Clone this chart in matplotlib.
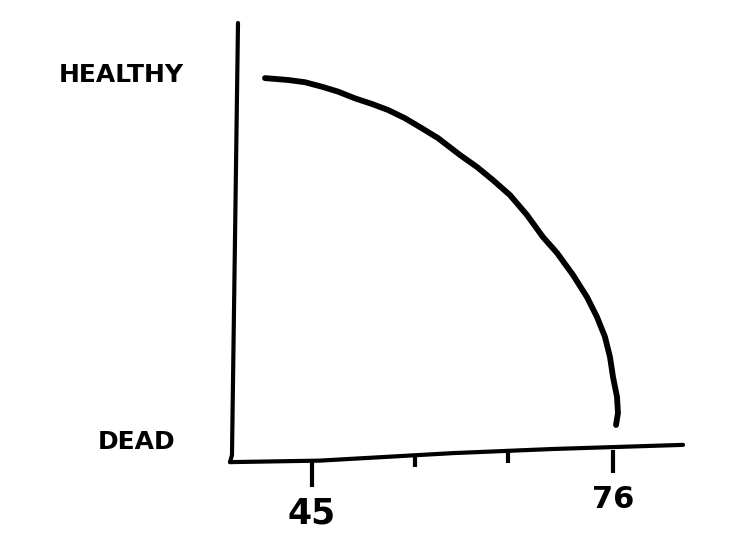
import matplotlib
matplotlib.use('Agg')
import matplotlib.pyplot as plt

# curve: age vs health (1 = healthy, 0 = dead)
age = [40.16, 42.53, 44.28, 46.03, 47.68, 49.43, 51.18, 52.83, 54.58, 56.33,
       57.98, 60.24, 61.99, 63.64, 65.39, 67.14, 68.79, 70.23, 71.88, 73.32,
       74.35, 75.17, 75.69, 76.00, 76.41, 76.51, 76.31]
health = [0.997, 0.992, 0.986, 0.974, 0.961, 0.943, 0.928, 0.912, 0.890, 0.863,
          0.837, 0.792, 0.760, 0.725, 0.685, 0.632, 0.573, 0.531, 0.472, 0.413,
          0.360, 0.307, 0.253, 0.200, 0.147, 0.104, 0.072]

# hand drawn axes
yaxis_x = [37.38, 36.76, 36.56]
yaxis_y = [1.144, -0.008, -0.027]
xaxis_x = [36.56, 45.8, 59.5, 69.8, 83.21]
xaxis_y = [-0.027, -0.023, -0.003, 0.008, 0.019]

tick_x = [45.0, 55.6, 65.19, 76.0]
tick_top = [-0.021, -0.008, 0.0, 0.005]
tick_bot = [-0.093, -0.040, -0.029, -0.056]
tick_labels = ['45', '', '', '76']
tick_label_y = [-0.163, 0, 0, -0.128]
tick_label_size = [25, 0, 0, 22]

fig = plt.figure(figsize=(7.31, 5.57), dpi=100)
ax = fig.add_axes([0, 0, 1, 1])
ax.set_xlim(12.87, 88.15)
ax.set_ylim(-0.28, 1.2053)
ax.axis('off')

ax.plot(yaxis_x, yaxis_y, color='black', lw=3.0, solid_capstyle='round')
ax.plot(xaxis_x, xaxis_y, color='black', lw=3.0, solid_capstyle='round')
ax.vlines(tick_x, tick_bot, tick_top, color='black', lw=3.0)
ax.plot(age, health, color='black', lw=4.2, solid_capstyle='round',
        solid_joinstyle='round')

for i in range(len(tick_x)):
    if tick_labels[i]:
        ax.text(tick_x[i], tick_label_y[i], tick_labels[i], fontsize=tick_label_size[i],
                fontweight='bold', ha='center', va='center')

ax.text(25.33, 1.005, 'HEALTHY', fontsize=18, fontweight='bold', ha='center', va='center')
ax.text(26.98, 0.027, 'DEAD', fontsize=18, fontweight='bold', ha='center', va='center')

plt.savefig('out.png', dpi=100, facecolor='white')
